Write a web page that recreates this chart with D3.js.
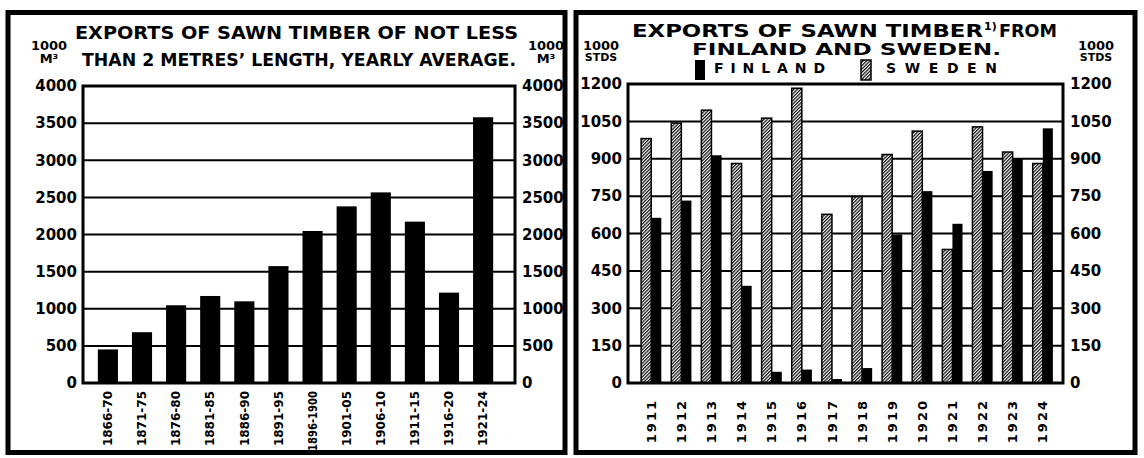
<!DOCTYPE html>
<html>
<head>
<meta charset="utf-8">
<script src="https://cdn.jsdelivr.net/npm/d3@7"></script>
<style>
  body { margin: 0; background: #fff; }
  text { font-family: "DejaVu Sans", sans-serif; font-weight: bold; fill: #000; }
</style>
</head>
<body>
<svg id="chart" width="1144" height="458"></svg>
<script>
// left chart: yearly average exports, 1000 m3
const periods = ['1866-70', '1871-75', '1876-80', '1881-85', '1886-90', '1891-95',
  '1896-1900', '1901-05', '1906-10', '1911-15', '1916-20', '1921-24'];
const timberExports = [452, 684, 1047, 1172, 1100, 1574, 2047, 2379, 2567, 2173, 1217, 3579];
const leftTicks = [0, 500, 1000, 1500, 2000, 2500, 3000, 3500, 4000];

// right chart: Finland and Sweden, 1000 standards
const years = ['1911', '1912', '1913', '1914', '1915', '1916', '1917',
  '1918', '1919', '1920', '1921', '1922', '1923', '1924'];
const sweden = [981, 1043, 1095, 881, 1063, 1183, 677, 748, 917, 1011, 536, 1028, 927, 881];
const finland = [663, 732, 914, 390, 45, 54, 16, 60, 596, 770, 639, 851, 902, 1022];
const rightTicks = [0, 150, 300, 450, 600, 750, 900, 1050, 1200];

const svg = d3.select('#chart');
svg.append('rect').attr('width', 1144).attr('height', 458).attr('fill', '#fff');

// hatching for Sweden
const defs = svg.append('defs');
const pat = defs.append('pattern')
    .attr('id', 'hatch')
    .attr('patternUnits', 'userSpaceOnUse')
    .attr('width', 2.4).attr('height', 2.4)
    .attr('patternTransform', 'rotate(45)');
pat.append('rect').attr('width', 2.4).attr('height', 2.4).attr('fill', '#fff');
pat.append('line').attr('x1', 0.6).attr('y1', 0).attr('x2', 0.6).attr('y2', 2.4)
    .attr('stroke', '#111').attr('stroke-width', 1.3);

// panel frames
svg.append('rect').attr('x', 8).attr('y', 12.5).attr('width', 557).attr('height', 440)
    .attr('fill', 'none').attr('stroke', '#000').attr('stroke-width', 5);
svg.append('rect').attr('x', 576).attr('y', 12.5).attr('width', 559).attr('height', 440)
    .attr('fill', 'none').attr('stroke', '#000').attr('stroke-width', 5);

function drawYAxes(g, y, ticks, left, right) {
    g.append('g')
        .attr('transform', `translate(${left},0)`)
        .call(d3.axisLeft(y).tickValues(ticks).tickFormat(d3.format('d')).tickSize(0).tickPadding(6))
        .call(a => a.select('.domain').remove())
        .selectAll('text').style('font-size', '15px').attr('font-family', null);
    g.append('g')
        .attr('transform', `translate(${right},0)`)
        .call(d3.axisRight(y).tickValues(ticks).tickFormat(d3.format('d')).tickSize(0).tickPadding(7))
        .call(a => a.select('.domain').remove())
        .selectAll('text').style('font-size', '15px').attr('font-family', null);
    g.selectAll('.tick text').attr('fill', '#000');

    // grid lines
    g.append('g').selectAll('line')
        .data(ticks)
        .join('line')
        .attr('x1', left).attr('x2', right)
        .attr('y1', d => y(d)).attr('y2', d => y(d))
        .attr('stroke', '#000').attr('stroke-width', 2);
}

// ---------- left chart ----------
{
    const g = svg.append('g');
    const left = 83, right = 515;
    const y = d3.scaleLinear().domain([0, 4000]).range([383, 86]);
    const x = d3.scaleBand().domain(periods).range([91, 500]).paddingInner(0.41).paddingOuter(0.2);

    g.append('text').attr('x', 75).attr('y', 39).attr('textLength', 443)
        .attr('lengthAdjust', 'spacingAndGlyphs')
        .style('font-size', '18px').text('EXPORTS OF SAWN  TIMBER  OF NOT LESS');
    g.append('text').attr('x', 82).attr('y', 66).attr('textLength', 434)
        .attr('lengthAdjust', 'spacingAndGlyphs')
        .style('font-size', '18px').text('THAN 2 METRES’ LENGTH, YEARLY AVERAGE.');

    [49, 546].forEach(cx => {
        g.append('text').attr('x', cx).attr('y', 50).attr('text-anchor', 'middle')
            .style('font-size', '13px').text('1000');
        g.append('text').attr('x', cx).attr('y', 63).attr('text-anchor', 'middle')
            .style('font-size', '13px').text('M³');
    });

    drawYAxes(g, y, leftTicks, left, right);

    g.append('g').selectAll('rect')
        .data(periods)
        .join('rect')
        .attr('x', d => x(d))
        .attr('width', x.bandwidth())
        .attr('y', (d, i) => y(timberExports[i]))
        .attr('height', (d, i) => y(0) - y(timberExports[i]))
        .attr('fill', '#000');

    g.append('rect').attr('x', left).attr('y', y(4000)).attr('width', right - left)
        .attr('height', y(0) - y(4000)).attr('fill', 'none')
        .attr('stroke', '#000').attr('stroke-width', 3);

    g.append('g').selectAll('text')
        .data(periods)
        .join('text')
        .attr('transform', d => `translate(${x(d) + x.bandwidth() / 2},391) rotate(-90)`)
        .attr('text-anchor', 'end')
        .attr('dy', '0.35em')
        .attr('textLength', d => d.length > 7 ? 60 : null)
        .attr('lengthAdjust', 'spacingAndGlyphs')
        .style('font-size', '12px')
        .text(d => d);
}

// ---------- right chart ----------
{
    const g = svg.append('g');
    const left = 628, right = 1063;
    const y = d3.scaleLinear().domain([0, 1200]).range([383, 84]);
    const x = d3.scaleBand().domain(years).range([636, 1058]).paddingInner(0.33).paddingOuter(0.17);
    const x1 = d3.scaleBand().domain(['Sweden', 'Finland']).range([0, x.bandwidth()]);

    g.append('text').attr('x', 632).attr('y', 37).attr('textLength', 351)
        .attr('lengthAdjust', 'spacingAndGlyphs')
        .style('font-size', '17px').text('EXPORTS  OF  SAWN  TIMBER');
    g.append('text').attr('x', 984).attr('y', 30)
        .style('font-size', '11px').text('1)');
    g.append('text').attr('x', 999).attr('y', 37).attr('textLength', 58)
        .attr('lengthAdjust', 'spacingAndGlyphs')
        .style('font-size', '17px').text('FROM');
    g.append('text').attr('x', 692).attr('y', 55).attr('textLength', 309)
        .attr('lengthAdjust', 'spacingAndGlyphs')
        .style('font-size', '16px').text('FINLAND  AND  SWEDEN.');

    // legend
    g.append('rect').attr('x', 695).attr('y', 60).attr('width', 10).attr('height', 20).attr('fill', '#000');
    g.append('text').attr('x', 714).attr('y', 73).attr('textLength', 111)
        .attr('lengthAdjust', 'spacing')
        .style('font-size', '14px').text('FINLAND');
    g.append('rect').attr('x', 861).attr('y', 60).attr('width', 10).attr('height', 20)
        .attr('fill', 'url(#hatch)').attr('stroke', '#000').attr('stroke-width', 1.5);
    g.append('text').attr('x', 886).attr('y', 73).attr('textLength', 111)
        .attr('lengthAdjust', 'spacing')
        .style('font-size', '14px').text('SWEDEN');

    [601, 1096].forEach(cx => {
        g.append('text').attr('x', cx).attr('y', 50).attr('text-anchor', 'middle')
            .style('font-size', '13px').text('1000');
        g.append('text').attr('x', cx).attr('y', 61).attr('text-anchor', 'middle')
            .style('font-size', '11px').text('STDS');
    });

    drawYAxes(g, y, rightTicks, left, right);

    const bars = g.append('g');
    bars.selectAll('rect.sweden')
        .data(years)
        .join('rect')
        .attr('class', 'sweden')
        .attr('x', d => x(d) + x1('Sweden'))
        .attr('width', x1.bandwidth())
        .attr('y', (d, i) => y(sweden[i]))
        .attr('height', (d, i) => y(0) - y(sweden[i]))
        .attr('fill', 'url(#hatch)')
        .attr('stroke', '#000').attr('stroke-width', 1.5);
    bars.selectAll('rect.finland')
        .data(years)
        .join('rect')
        .attr('class', 'finland')
        .attr('x', d => x(d) + x1('Finland'))
        .attr('width', x1.bandwidth())
        .attr('y', (d, i) => y(finland[i]))
        .attr('height', (d, i) => y(0) - y(finland[i]))
        .attr('fill', '#000');

    g.append('rect').attr('x', left).attr('y', y(1200)).attr('width', right - left)
        .attr('height', y(0) - y(1200)).attr('fill', 'none')
        .attr('stroke', '#000').attr('stroke-width', 3);

    g.append('g').selectAll('text')
        .data(years)
        .join('text')
        .attr('transform', d => `translate(${x(d) + x.bandwidth() / 2},399) rotate(-90)`)
        .attr('text-anchor', 'end')
        .attr('dy', '0.35em')
        .style('font-size', '13px')
        .style('letter-spacing', '2px')
        .text(d => d);
}
</script>
</body>
</html>
